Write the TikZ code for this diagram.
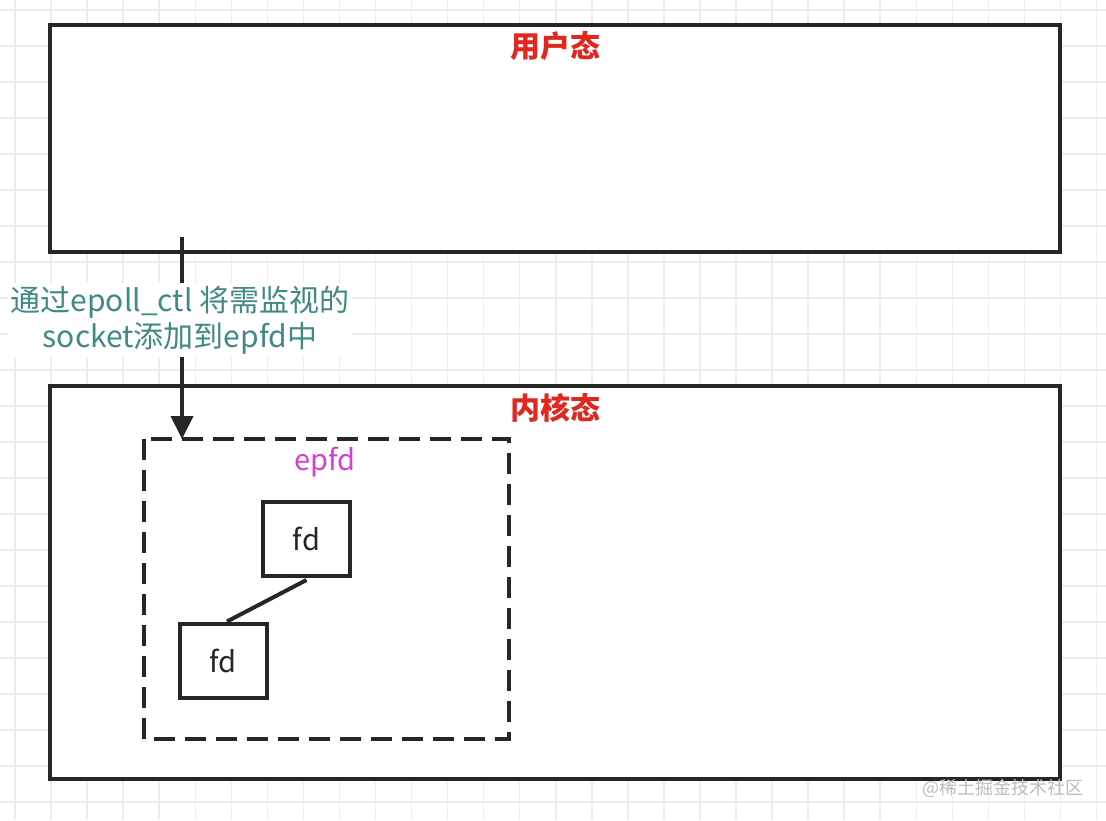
\documentclass[tikz,border=0pt]{standalone}
\usepackage{fontspec}
\setmainfont{Noto Sans CJK SC}
\usetikzlibrary{arrows.meta}
\definecolor{gridc}{HTML}{EDEDED}
\definecolor{linec}{HTML}{262626}
\definecolor{titlec}{HTML}{E0281F}
\definecolor{labelc}{HTML}{3F8A82}
\definecolor{epfdc}{HTML}{D63FD6}
\definecolor{wmc}{HTML}{BDBDBD}
\tikzset{
  region/.style={draw=linec, line width=4pt, fill=none},
  dashbox/.style={draw=linec, line width=4pt, dash pattern=on 21pt off 10pt},
  fdbox/.style={draw=linec, line width=4pt, fill=white, minimum width=87pt, minimum height=74pt, inner sep=0pt, font=\fontsize{29}{32}\selectfont, text=linec},
  title/.style={text=titlec, font=\fontsize{30}{34}\selectfont\bfseries, inner sep=0pt},
  conn/.style={draw=linec, line width=4pt},
}
\begin{document}
\begin{tikzpicture}[x=1pt,y=-1pt]
\useasboundingbox (0,0) rectangle (1106,820);
\fill[white] (0,0) rectangle (1106,820);
% grid
\foreach \i in {0,...,30} {\draw[gridc, line width=1.5pt] ({15+36.05*\i},0) -- ({15+36.05*\i},820);}
\foreach \j in {0,...,22} {\draw[gridc, line width=1.5pt] (0,{10+36*\j}) -- (1106,{10+36*\j});}
% regions
\draw[region, fill=white] (50,25) rectangle (1060,252);
\draw[region, fill=white] (50,386) rectangle (1060,779);
\node[title] (user) at (555,46) {用户态};
\node[title] (kernel) at (555,408) {内核态};
% epfd dashed box
\draw[dashbox] (144,439) rectangle (509,739);
\coordinate (epfdtop) at (182,439);
\node[text=epfdc, font=\fontsize{29}{32}\selectfont, inner sep=0pt] (epfd) at (325,462) {epfd};
\node[fdbox] (fd1) at (306.5,539) {fd};
\node[fdbox] (fd2) at (223,660.5) {fd};
\draw[conn] (fd1.south) ++(0,2) -- ([xshift=4pt]fd2.north);
% arrow
\coordinate (astart) at (182,237);
\draw[conn, -{Triangle[width=22pt,length=23pt]}] (astart) -- (epfdtop);
\node[fill=white, text=labelc, align=center, inner sep=3pt, font=\fontsize{30}{36}\selectfont] (lbl) at (180,320) {通过epoll\_ctl 将需监视的\\socket添加到epfd中};
% watermark
\node[text=wmc, font=\fontsize{18}{20}\selectfont, anchor=east, inner sep=0pt] (wm) at (1084,788) {@稀土掘金技术社区};
\end{tikzpicture}
\end{document}
